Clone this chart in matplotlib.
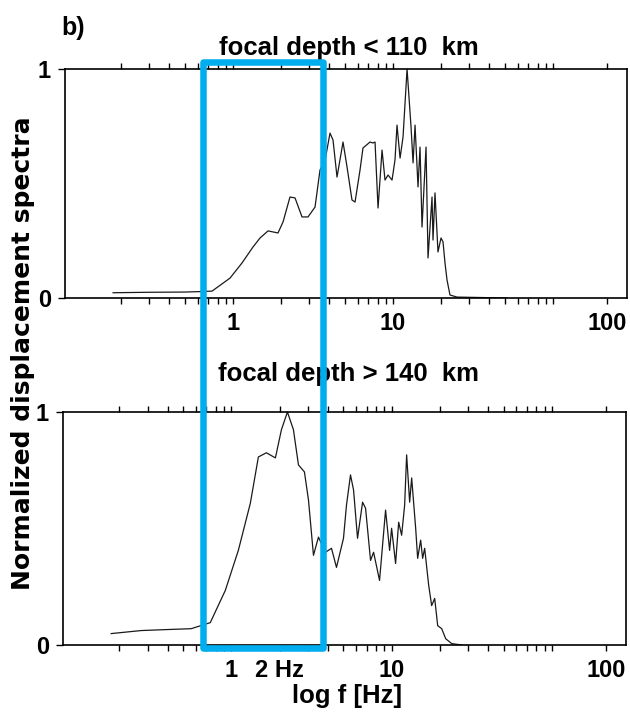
import numpy as np
import matplotlib
matplotlib.use("Agg")
import matplotlib.pyplot as plt
from matplotlib import font_manager
from matplotlib.patches import Rectangle
from matplotlib.ticker import FixedLocator, NullFormatter

# ---------------- data ----------------
f_shallow = [0.178, 0.30, 0.50, 0.622, 0.739, 0.958, 1.138, 1.334, 1.475, 1.655,
             1.91, 2.054, 2.27, 2.441, 2.699, 2.942, 3.255, 3.497, 3.758, 4.038,
             4.217, 4.467, 4.87, 5.16, 5.54, 5.79, 6.22, 6.49, 7.18, 7.5,
             7.72, 8.06, 8.54, 8.91, 9.31, 9.86, 10.29, 10.59, 11.07, 11.55,
             12.24, 12.96, 13.34, 13.73, 14.33, 14.75, 15.18, 16.08, 16.55, 17.53,
             17.78, 18.3, 19.1, 19.95, 20.54, 21.13, 21.75, 22.7, 25.12, 51.6]
v_shallow = [0.023, 0.025, 0.026, 0.028, 0.030, 0.087, 0.153, 0.223, 0.262, 0.293,
             0.284, 0.332, 0.441, 0.437, 0.354, 0.354, 0.397, 0.559, 0.60, 0.72,
             0.69, 0.528, 0.681, 0.572, 0.428, 0.419, 0.559, 0.655, 0.681, 0.677,
             0.681, 0.393, 0.646, 0.515, 0.537, 0.515, 0.603, 0.755, 0.611, 0.703,
             1.0, 0.747, 0.59, 0.755, 0.485, 0.659, 0.31, 0.659, 0.175, 0.441,
             0.253, 0.459, 0.201, 0.262, 0.245, 0.153, 0.079, 0.013, 0.004, 0.0]

f_deep = [0.178, 0.274, 0.387, 0.562, 0.739, 0.917, 1.106, 1.314, 1.475, 1.655,
          1.884, 2.054, 2.239, 2.441, 2.623, 2.858, 3.03, 3.255, 3.497, 3.868,
          4.217, 4.53, 5.01, 5.23, 5.54, 5.79, 6.13, 6.59, 6.88, 7.39,
          7.72, 8.41, 9.17, 9.72, 10.0, 10.59, 11.07, 11.55, 12.06, 12.41,
          12.96, 13.34, 14.13, 14.54, 15.18, 15.62, 16.08, 17.03, 17.78, 18.57,
          19.39, 20.54, 21.75, 23.71, 27.4]
v_deep = [0.049, 0.062, 0.066, 0.070, 0.096, 0.234, 0.406, 0.608, 0.807, 0.825,
          0.803, 0.924, 1.0, 0.924, 0.773, 0.743, 0.622, 0.385, 0.463, 0.398,
          0.415, 0.333, 0.458, 0.60, 0.73, 0.665, 0.458, 0.613, 0.587, 0.363,
          0.398, 0.277, 0.579, 0.406, 0.501, 0.35, 0.527, 0.471, 0.60, 0.816,
          0.613, 0.717, 0.501, 0.372, 0.45, 0.372, 0.415, 0.257, 0.169, 0.2,
          0.083, 0.07, 0.027, 0.006, 0.0]

titles = ["focal depth < 110  km", "focal depth > 140  km"]
top_ticks = [1, 10, 217.5]
top_labels = ["1", "10", "100"]
bot_ticks = [1, 2, 10, 217.5]
bot_labels = ["1", "2 Hz", "10", "100"]
minor_ticks = [0.2, 0.3, 0.4, 0.5, 0.6, 0.7, 0.8, 0.9,
               2, 3, 4, 5, 6, 7, 8, 9,
               20, 30, 40, 50, 60, 70, 80, 90, 100]

# ---------------- fonts ----------------
names = {f.name for f in font_manager.fontManager.ttflist}
NARROW = "Liberation Sans Narrow" if "Liberation Sans Narrow" in names else "Liberation Sans"

W, H = 630, 715
fig = plt.figure(figsize=(W / 100, H / 100), dpi=100)


def fx(px):
    return px / W


def fy(py):
    return 1 - py / H


ax1 = fig.add_axes([fx(65), fy(298), fx(627) - fx(65), fy(69) - fy(298)])
ax2 = fig.add_axes([fx(63), fy(645), fx(626) - fx(63), fy(412) - fy(645)])

XMIN, XMAX = 0.0891, 290

for ax, f, v, tk, tl in [(ax1, f_shallow, v_shallow, top_ticks, top_labels),
                          (ax2, f_deep, v_deep, bot_ticks, bot_labels)]:
    ax.plot(f, v, color="#1a1a1a", lw=0.9, solid_joinstyle="round")
    ax.set_xscale("log")
    ax.set_xlim(XMIN, XMAX)
    ax.set_ylim(0, 1)
    ax.xaxis.set_major_locator(FixedLocator(tk))
    ax.set_xticklabels(tl)
    ax.xaxis.set_minor_locator(FixedLocator(minor_ticks))
    ax.xaxis.set_minor_formatter(NullFormatter())
    ax.tick_params(axis="x", which="both", direction="out", top=True,
                   length=4, width=1.0, pad=6)
    ax.set_yticks([0, 1])
    ax.set_yticklabels(["0", "1"])
    ax.tick_params(axis="y", which="both", direction="out", length=5,
                   width=1.0, pad=5)
    for lab in ax.get_xticklabels() + ax.get_yticklabels():
        lab.set_fontfamily(NARROW)
        lab.set_fontweight("bold")
        lab.set_fontsize(17)
    for s in ax.spines.values():
        s.set_linewidth(1.2)

fig.text(fx(349), fy(55), titles[0], ha="center", va="baseline",
         fontsize=18.5, fontweight="bold", family=NARROW)
fig.text(fx(348), fy(381), titles[1], ha="center", va="baseline",
         fontsize=18.5, fontweight="bold", family=NARROW)
fig.text(fx(61), fy(35), "b)", ha="left", va="baseline",
         fontsize=18, fontweight="bold", family=NARROW)
fig.text(fx(23), fy(353), "Normalized displacement spectra", rotation=90,
         ha="center", va="center", fontsize=18, fontweight="bold",
         family="DejaVu Sans")
fig.text(fx(347), fy(703), "log f [Hz]", ha="center", va="baseline",
         fontsize=18.5, fontweight="bold", family=NARROW)

rect = Rectangle((fx(203), fy(648)), fx(323) - fx(203), fy(62) - fy(648),
                 transform=fig.transFigure, fill=False, ec="#00AEEF",
                 lw=4.7, joinstyle="round", zorder=10)
fig.add_artist(rect)

fig.savefig("out.png", dpi=100)
